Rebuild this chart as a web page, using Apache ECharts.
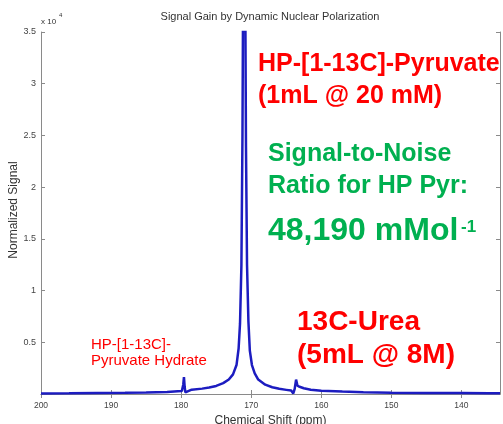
<!DOCTYPE html>
<html>
<head>
<meta charset="utf-8">
<script src="https://cdn.jsdelivr.net/npm/echarts@6/dist/echarts.min.js"></script>
<style>
  body { margin: 0; background: #fff; }
  #chart { width: 503px; height: 424px; }
</style>
</head>
<body>
<div id="chart"></div>
<script>
  // chemical shift (ppm) and normalized signal
  var ppm = [200, 196, 192, 188, 185, 182, 180.5, 179.9, 179.7, 179.6, 179.5, 179.4, 179.2, 178.5, 177, 176, 175, 174, 173.2, 172.6,
    172.1, 171.8, 171.6, 171.4, 171.25, 171.1, 171.0, 170.9, 170.75, 170.6, 170.4, 170.2, 169.9, 169.5, 169, 168, 167, 166, 165,
    164.3, 164.0, 163.8, 163.6, 163.4, 163.1, 162.5, 161.5, 160, 157, 154, 150, 145, 140, 136, 134.5]
  var signal = [60, 70, 90, 110, 140, 200, 260, 280, 900, 1640, 700, 150, 330, 420, 520, 620, 780, 1050, 1400, 1900,
    2800, 4400, 6800, 12500, 25000, 48000, 60000, 46000, 24000, 12500, 7000, 4200, 2800, 2000, 1400, 900, 650, 500, 400,
    330, 60, 500, 1390, 800, 700, 560, 420, 320, 230, 170, 130, 100, 90, 80, 80]
  var xTicks = [200, 190, 180, 170, 160, 150, 140]

  var chart = echarts.init(document.getElementById('chart'))
  var axisGray = '#8a8a8a'
  var font = 'Liberation Sans, Arial, sans-serif'

  // annotation text, y is the vertical middle of the line
  function note(str, x, y, size, color, bold) {
    return {
      type: 'text', x: x, y: y,
      style: {text: str, font: (bold ? 'bold ' : '') + size + 'px ' + font, fill: color, verticalAlign: 'middle'}
    }
  }

  chart.setOption({
    animation: false,
    grid: {left: 41, right: 3, top: 32, bottom: 30, show: false, outerBoundsMode: 'none', containLabel: false},
    xAxis: [
      {
        type: 'value', min: 134.5, max: 200, inverse: true,
        name: 'Chemical Shift (ppm)', nameLocation: 'middle', nameGap: 20,
        nameTextStyle: {fontFamily: font, fontSize: 12, color: '#333'},
        axisLine: {lineStyle: {color: axisGray}},
        axisTick: {inside: true, length: 4, customValues: xTicks, lineStyle: {color: axisGray}},
        axisLabel: {customValues: xTicks, margin: 7, fontFamily: font, fontSize: 8.5, color: '#444'},
        splitLine: {show: false}
      },
      {
        type: 'value', min: 134.5, max: 200, inverse: true, position: 'top',
        axisLine: {lineStyle: {color: axisGray}},
        axisTick: {inside: true, length: 4, customValues: xTicks, lineStyle: {color: axisGray}},
        axisLabel: {show: false},
        splitLine: {show: false}
      }
    ],
    yAxis: [
      {
        type: 'value', min: 0, max: 35000, interval: 5000,
        axisLine: {show: true, lineStyle: {color: axisGray}},
        axisTick: {show: true, inside: true, length: 4, lineStyle: {color: axisGray}},
        axisLabel: {
          margin: 5, fontFamily: font, fontSize: 9, color: '#444',
          formatter: function (v) { return v === 0 ? '' : String(v / 10000) }
        },
        splitLine: {show: false}
      },
      {
        type: 'value', min: 0, max: 35000, interval: 5000, position: 'right',
        axisLine: {show: true, lineStyle: {color: axisGray}},
        axisTick: {show: true, inside: true, length: 4, lineStyle: {color: axisGray}},
        axisLabel: {show: false},
        splitLine: {show: false}
      }
    ],
    series: [
      {
        type: 'line',
        data: ppm.map(function (p, i) { return [p, signal[i]] }),
        showSymbol: false,
        clip: true,
        lineStyle: {color: '#1c1cc0', width: 2.5},
        itemStyle: {color: '#1c1cc0'}
      }
    ],
    graphic: [
      {type: 'text', x: 270, y: 17, style: {text: 'Signal Gain by Dynamic Nuclear Polarization', font: '11px ' + font, fill: '#333', align: 'center', verticalAlign: 'middle'}},
      {type: 'text', x: 14, y: 210, rotation: Math.PI / 2, style: {text: 'Normalized Signal', font: '12px ' + font, fill: '#333', align: 'center', verticalAlign: 'middle'}},
      note('x 10', 41, 22, 8, '#333', false),
      note('4', 59, 15, 6, '#333', false),

      note('HP-[1-13C]-Pyruvate', 258, 64, 25, '#ff0000', true),
      note('(1mL @ 20 mM)', 258, 96, 25, '#ff0000', true),

      note('Signal-to-Noise', 268, 154, 25, '#00b050', true),
      note('Ratio for HP Pyr:', 268, 186, 25, '#00b050', true),
      note('48,190 mMol', 268, 231, 32, '#00b050', true),
      note('-1', 461, 227, 17, '#00b050', true),

      note('13C-Urea', 297, 322, 28, '#ff0000', true),
      note('(5mL @ 8M)', 297, 355, 28, '#ff0000', true),

      note('HP-[1-13C]-', 91, 345, 15, '#ff0000', false),
      note('Pyruvate Hydrate', 91, 361, 15, '#ff0000', false)
    ]
  })
</script>
</body>
</html>
